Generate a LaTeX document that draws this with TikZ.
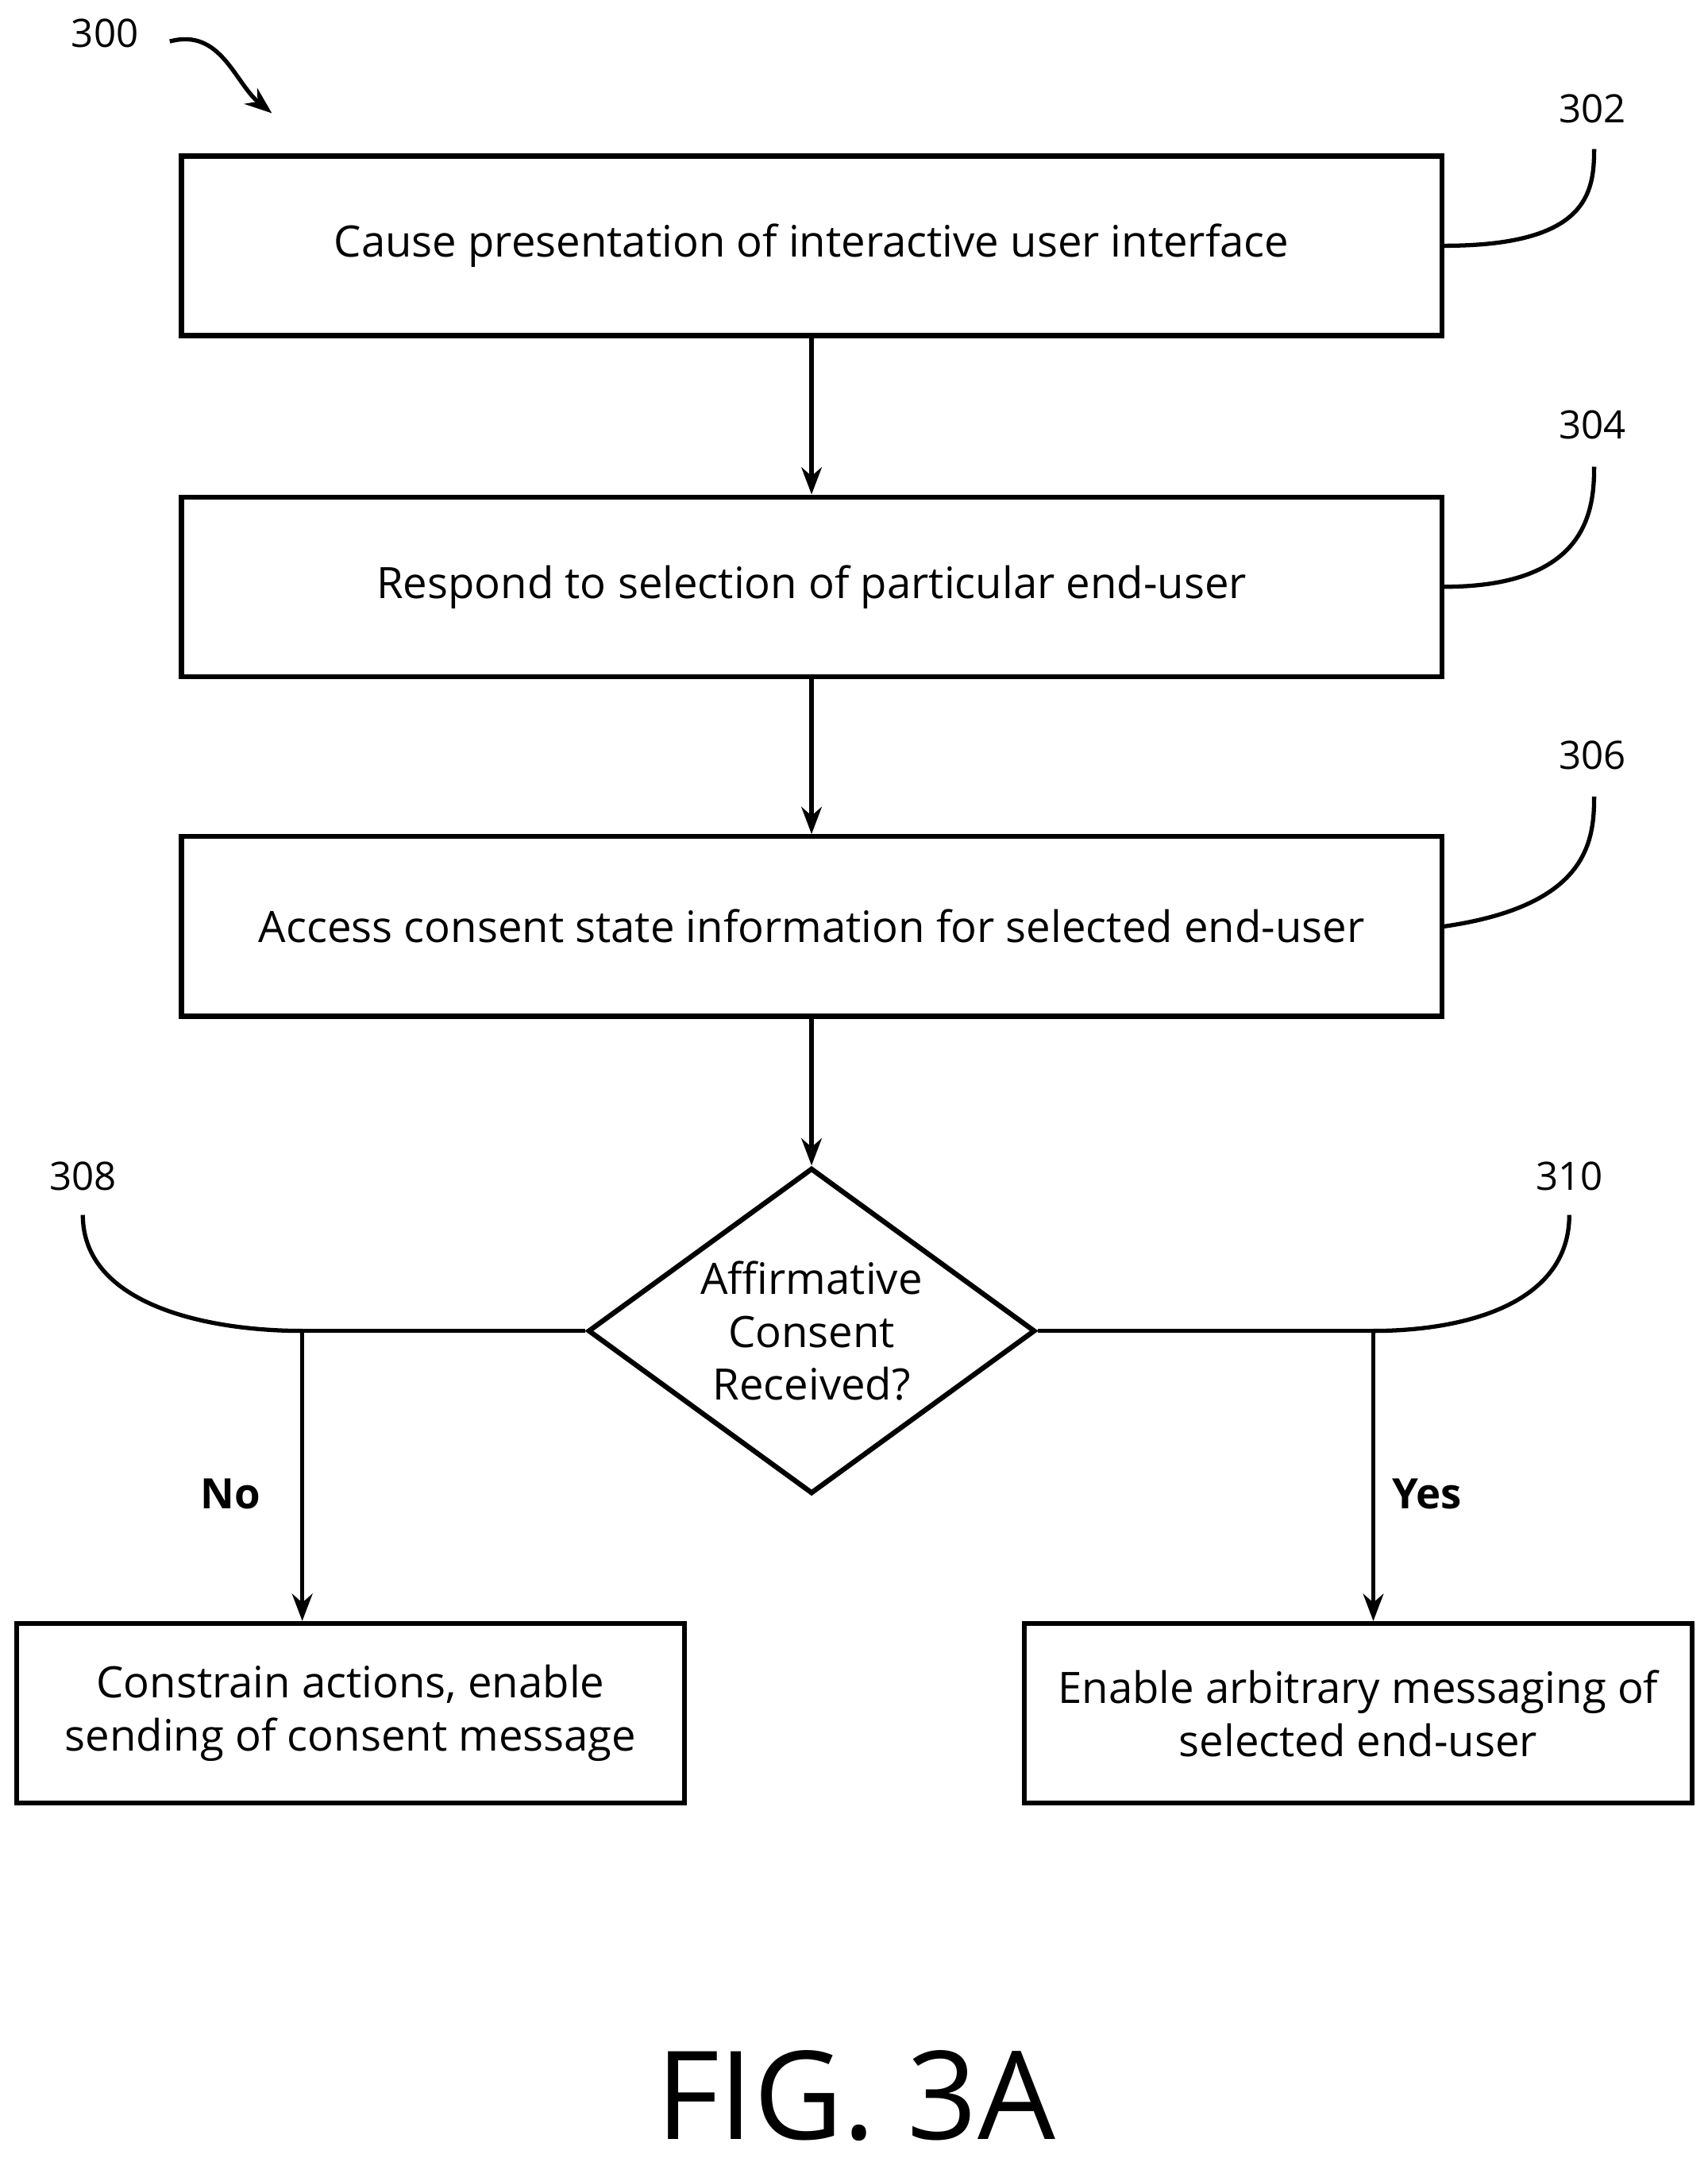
\documentclass[tikz,border=0pt]{standalone}
\usepackage{fontspec}
\setmainfont{Open Sans}
\usetikzlibrary{shapes.geometric,arrows.meta}
\begin{document}
\begin{tikzpicture}[x=0.01738cm,y=-0.01738cm,>=Stealth,
  stepbox/.style={draw,line width=1.8pt,minimum width=15.87cm,minimum height=2.26cm,font=\fontsize{15.5}{19}\selectfont},
  leaf/.style={draw,line width=1.8pt,minimum width=8.41cm,minimum height=2.26cm,align=center,font=\fontsize{15.5}{19}\selectfont},
  flow/.style={line width=1.5pt,->},
  tag/.style={font=\fontsize{14}{16}\selectfont},
  lead/.style={line width=1.5pt}]
  \useasboundingbox (0,0) rectangle (1237,1566);
  %
  % Steps
  \node[stepbox] (present) at (588,178) {Cause presentation of interactive user interface};
  \node[stepbox] (respond) at (588,425) {Respond to selection of particular end-user};
  \node[stepbox] (access) at (588,671) {Access consent state information for selected end-user};
  \node[draw,diamond,line width=1.8pt,aspect=1.37,minimum width=5.63cm,minimum height=4.1cm,inner sep=0pt,align=center,
    font=\fontsize{15.5}{19}\selectfont] (check) at (588,964) {Affirmative\\Consent\\Received?};
  \node[leaf] (constrain) at (254,1241) {Constrain actions, enable\\sending of consent message};
  \node[leaf] (enable) at (984,1241) {Enable arbitrary messaging of\\selected end-user};
  %
  % Connectors
  \draw[flow] (present) -- (respond);
  \draw[flow] (respond) -- (access);
  \draw[flow] (access) -- (check);
  \coordinate (nocorner) at (219,964);
  \coordinate (yescorner) at (995,964);
  \draw[flow] (check.west) -- (nocorner) -- (nocorner |- constrain.north);
  \draw[flow] (check.east) -- (yescorner) -- (yescorner |- enable.north);
  \node[font=\fontsize{15}{17}\selectfont\bfseries] (no) at (167,1082) {No};
  \node[font=\fontsize{15}{17}\selectfont\bfseries] (yes) at (1034,1082) {Yes};
  %
  % Reference numerals
  \node[tag] (n300) at (76,24) {300};
  \node[tag] (n302) at (1154,79) {302};
  \node[tag] (n304) at (1154,308) {304};
  \node[tag] (n306) at (1154,547) {306};
  \node[tag] (n308) at (60,852) {308};
  \node[tag] (n310) at (1137,852) {310};
  \node[font=\fontsize{44}{52}\selectfont] (fig) at (620,1518) {FIG. 3A};
  \draw[lead,->] (123,30) .. controls (160,20) and (170,60) .. (197,82);
  \draw[lead] (present.east) .. controls (1150,178) and (1155,140) .. (1155,108);
  \draw[lead] (respond.east) .. controls (1150,425) and (1155,370) .. (1155,338);
  \draw[lead] (access.east) .. controls (1150,656) and (1155,610) .. (1155,577);
  \draw[lead] (60,880) .. controls (60,945) and (150,964) .. (nocorner);
  \draw[lead] (1137,880) .. controls (1137,945) and (1060,964) .. (yescorner);
\end{tikzpicture}
\end{document}
